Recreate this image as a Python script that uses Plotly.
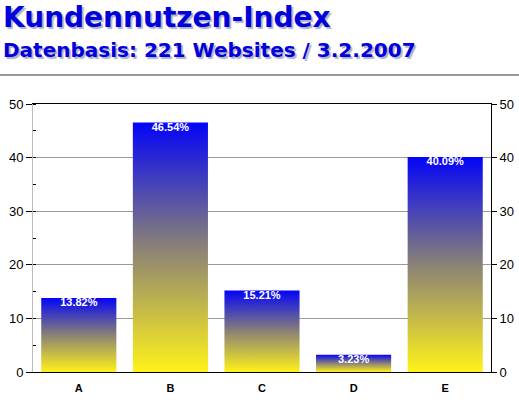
import plotly.graph_objects as go

# Werte
categories = ["A", "B", "C", "D", "E"]
values = [13.82, 46.54, 15.21, 3.23, 40.09]
labels = ["13.82%", "46.54%", "15.21%", "3.23%", "40.09%"]
y_ticks = [0, 10, 20, 30, 40, 50]

title = "Kundennutzen-Index"
subtitle = "Datenbasis: 221 Websites / 3.2.2007"

W, H = 519, 400
ML, MR, MT, MB = 33, 28, 104, 28
plot_w = W - ML - MR
plot_h = H - MT - MB

half = 0.41  # halbe Balkenbreite in Kategorie-Einheiten

fig = go.Figure()

# Balken als gefuellte Flaechen mit Verlauf gelb -> blau
for i, v in enumerate(values):
    fig.add_trace(go.Scatter(
        x=[i - half, i - half, i + half, i + half, i - half],
        y=[0, v, v, 0, 0],
        mode="lines",
        line=dict(width=0),
        fill="toself",
        fillgradient=dict(type="vertical",
                          colorscale=[[0, "#fff21a"], [0.5, "#8a8276"], [1, "#0404f8"]]),
        hoverinfo="skip",
        showlegend=False,
    ))

# Prozent-Beschriftung oben im Balken
fig.add_trace(go.Scatter(
    x=list(range(len(categories))),
    y=values,
    mode="text",
    text=labels,
    textposition="bottom center",
    textfont=dict(family="Arial", size=11, color="white", weight="bold"),
    hoverinfo="skip",
    showlegend=False,
    yaxis="y2",
))

def px_x(px):
    return (px - ML) / plot_w

def px_y(py):
    return (H - MB - py) / plot_h

annots = []
for txt, size, py in [(title, 28, 17), (subtitle, 20, 50)]:
    annots.append(dict(
        text="<b>" + txt + "</b>", x=px_x(1), y=px_y(py),
        xref="paper", yref="paper", xanchor="left", yanchor="middle",
        showarrow=False,
        font=dict(family="DejaVu Sans", size=size, color="#0000dd",
                  shadow="2px 2px 1px #b0b0c8"),
    ))

fig.update_layout(
    width=W, height=H,
    margin=dict(l=ML, r=MR, t=MT, b=MB),
    plot_bgcolor="white", paper_bgcolor="white",
    annotations=annots,
    shapes=[dict(type="line", xref="paper", yref="paper",
                 x0=px_x(0), x1=px_x(W), y0=px_y(75), y1=px_y(75),
                 line=dict(color="#999999", width=2))],
    xaxis=dict(
        range=[-0.5, len(categories) - 0.5], automargin=False,
        tickvals=list(range(len(categories))), ticktext=categories,
        showgrid=False, zeroline=False,
        showline=True, linecolor="black", linewidth=1, mirror=True,
        ticks="", ticklabelstandoff=6,
        tickfont=dict(family="Arial", size=11, color="black", weight="bold"),
    ),
    yaxis=dict(
        range=[0, 50], tickvals=y_ticks, automargin=False,
        showgrid=True, gridcolor="#9a9a9a", gridwidth=1, zeroline=False,
        showline=True, linecolor="#bbbbbb", linewidth=1,
        ticks="outside", ticklen=6, tickcolor="black",
        minor=dict(dtick=5, ticks="inside", ticklen=3, tickcolor="black", showgrid=False),
        tickfont=dict(family="Arial", size=13, color="black"),
    ),
    yaxis2=dict(
        range=[0, 50], tickvals=y_ticks, overlaying="y", side="right", automargin=False,
        showgrid=False, zeroline=False,
        showline=True, linecolor="black", linewidth=1,
        ticks="outside", ticklen=5, tickcolor="black",
        tickfont=dict(family="Arial", size=13, color="black"),
    ),
)

fig.write_html("out.html", config={"displayModeBar": False},
               post_script="document.body.style.margin='0';")
